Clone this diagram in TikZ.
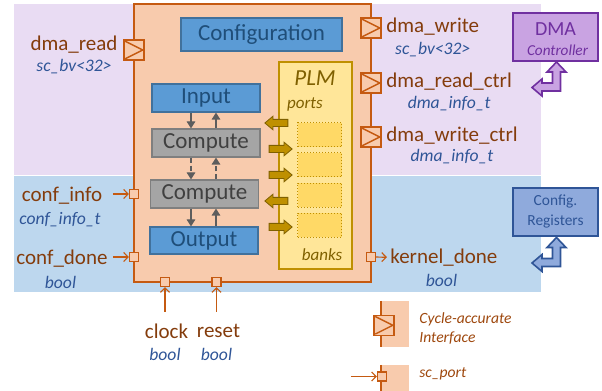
\documentclass[tikz,border=0pt]{standalone}
\usepackage{fontspec}
\setmainfont{Carlito}
\usepackage{tikz}
\usetikzlibrary{arrows.meta, positioning, shapes.arrows}
\definecolor{bgPurple}{HTML}{E9DCF3}
\definecolor{bgBlue}{HTML}{BDD7EE}
\definecolor{accFill}{HTML}{F8CBAD}
\definecolor{accLine}{HTML}{C55A11}
\definecolor{portText}{HTML}{843C0C}
\definecolor{typeText}{HTML}{2F5597}
\definecolor{stageFill}{HTML}{5B9BD5}
\definecolor{stageLine}{HTML}{41719C}
\definecolor{stageText}{HTML}{1F4E79}
\definecolor{compFill}{HTML}{A5A5A5}
\definecolor{compLine}{HTML}{7F7F7F}
\definecolor{compText}{HTML}{404040}
\definecolor{plmFill}{HTML}{FFE699}
\definecolor{plmLine}{HTML}{BF9000}
\definecolor{plmText}{HTML}{7F6000}
\definecolor{bankFill}{HTML}{FFD966}
\definecolor{dmaFill}{HTML}{C9A3E2}
\definecolor{dmaLine}{HTML}{7030A0}
\definecolor{cfgFill}{HTML}{8FAADC}
\definecolor{cfgLine}{HTML}{2F5597}

\begin{document}
\begin{tikzpicture}[x=0.5pt, y=-0.5pt,
  stage/.style={draw=stageLine, fill=stageFill, text=stageText, line width=0.6pt,
    minimum width=54pt, minimum height=14pt, inner sep=0pt, font=\fontsize{11.5}{12}\selectfont},
  comp/.style={stage, draw=compLine, fill=compFill, text=compText},
  bank/.style={draw=plmLine, fill=bankFill, densely dotted, line width=0.5pt,
    minimum width=22pt, minimum height=12pt, inner sep=0pt},
  plmarr/.style={single arrow, draw=plmText, fill=plmLine, line width=0.4pt, minimum height=11.5pt,
    minimum width=6.5pt, inner sep=1.6pt, single arrow head extend=1.6pt, single arrow tip angle=80},
  iface/.style={draw=accLine, fill=accFill, line width=0.7pt, minimum size=10pt, inner sep=0pt,
    path picture={\draw[accLine, line width=0.7pt]
      ([xshift=0.6pt,yshift=-0.6pt]path picture bounding box.north west)
      -- ([xshift=-0.6pt]path picture bounding box.east)
      -- ([xshift=0.6pt,yshift=0.6pt]path picture bounding box.south west);}},
  scport/.style={draw=accLine, fill=accFill, line width=0.6pt, minimum size=4.5pt, inner sep=0pt},
  sig/.style={accLine, line width=0.6pt, -{Straight Barb[length=2.2pt,width=4.5pt]}},
  flow/.style={draw=compText!85, line width=0.6pt, -{Triangle[length=3.5pt,width=4.3pt]}},
  pname/.style={text=portText, inner sep=0pt, font=\fontsize{10.5}{12}\selectfont},
  tname/.style={text=typeText, inner sep=0pt, font=\fontsize{8.8}{10}\selectfont\itshape},
  lgtext/.style={text=accLine!80!black, inner sep=0pt, align=left, font=\fontsize{7.8}{9.5}\selectfont\itshape},
]
  \useasboundingbox (0,0) rectangle (602,391);

  % domains
  \fill[bgPurple] (14,4) rectangle (541,175);
  \fill[bgBlue] (14,176) rectangle (541,292);

  % accelerator
  \node[draw=accLine, fill=accFill, line width=0.8pt, minimum width=118.5pt,
        minimum height=139pt, inner sep=0pt] (acc) at (252.5,143) {};
  \node[stage, minimum width=80.5pt, minimum height=16.5pt] (cfg) at (261.5,34.5) {Configuration};

  % PLM
  \node[draw=plmLine, fill=plmFill, line width=0.7pt, minimum width=36.5pt,
        minimum height=103.5pt, inner sep=0pt] (plm) at (315.5,165.5) {};
  \node[text=plmText, inner sep=0pt, font=\fontsize{11.5}{12}\selectfont\itshape] (plmlbl) at (315,78) {PLM};
  \node[text=plmText, inner sep=0pt, font=\fontsize{8.5}{10}\selectfont\itshape] (portslbl) at (305,104) {ports};
  \node[text=plmText, inner sep=0pt, font=\fontsize{8.5}{10}\selectfont\itshape] (bankslbl) at (322,255) {banks};
  \foreach \y [count=\i] in {134.7,165,195.3,225.3}
    \node[bank] (bank\i) at (320,\y) {};
  \foreach \y/\r [count=\i] in {123/180,149/0,175/0,201/180,227/0}
    \node[plmarr, shape border rotate=\r] (pa\i) at (278.5,\y) {};

  % stages
  \node[stage] (inp) at (206,98) {Input};
  \node[comp] (cmp1) at (206,143) {Compute};
  \node[comp] (cmp2) at (204.5,194) {Compute};
  \node[stage, minimum height=13.5pt] (outp) at (204,240.5) {Output};

  \coordinate (dn) at (191,0);
  \coordinate (up) at (216,0);
  \draw[flow] (inp.south -| dn) -- (cmp1.north -| dn);
  \draw[flow] (cmp1.north -| up) -- (inp.south -| up);
  \draw[flow, dash pattern=on 2.5pt off 1.5pt] (cmp1.south -| dn) -- (cmp2.north -| dn);
  \draw[flow, dash pattern=on 2.5pt off 1.5pt] (cmp2.north -| up) -- (cmp1.south -| up);
  \draw[flow] (cmp2.south -| dn) -- (outp.north -| dn);
  \draw[flow] (outp.north -| up) -- (cmp2.south -| up);

  % cycle-accurate interfaces
  \node[iface] (p_rd) at (134,50) {};
  \node[iface] (p_wr) at (371,28) {};
  \node[iface] (p_rc) at (371,83) {};
  \node[iface] (p_wc) at (371,137) {};

  \node[pname] (l_rd) at (74,45) {dma\_read};
  \node[tname] (t_rd) at ([yshift=-11pt]l_rd.center) {sc\_bv<32>};
  \node[pname, anchor=west] (l_wr) at (386,27) {dma\_write};
  \node[tname] (t_wr) at ([yshift=-11.5pt]l_wr.center) {sc\_bv<32>};
  \node[pname, anchor=west] (l_rc) at (386,82) {dma\_read\_ctrl};
  \node[tname] (t_rc) at ([yshift=-11pt]l_rc.center) {dma\_info\_t};
  \node[pname, anchor=west] (l_wc) at (386,136) {dma\_write\_ctrl};
  \node[tname] (t_wc) at ([yshift=-10.5pt]l_wc.center) {dma\_info\_t};

  % sc ports
  \node[scport] (p_ci) at (134,194) {};
  \node[scport] (p_cd) at (134,257) {};
  \node[scport] (p_clk) at (165,282) {};
  \node[scport] (p_rst) at (216.5,282) {};
  \node[scport] (p_kd) at (371,257) {};

  \node[pname] (l_ci) at (62,196) {conf\_info};
  \node[tname] (t_ci) at (60,220) {conf\_info\_t};
  \node[pname] (l_cd) at (62,259) {conf\_done};
  \node[tname] (t_cd) at (60.5,282) {bool};
  \node[pname] (l_clk) at (166.5,331) {clock};
  \node[tname] (t_clk) at (165,354.5) {bool};
  \node[pname] (l_rst) at (218.5,331) {reset};
  \node[tname] (t_rst) at (216.5,354.5) {bool};
  \node[pname, anchor=west] (l_kd) at (390,258) {kernel\_done};
  \node[tname] (t_kd) at (441.5,280.5) {bool};

  \coordinate (s_ci) at (113,194);
  \coordinate (s_cd) at (113,257);
  \coordinate (s_clk) at (165,312);
  \coordinate (s_rst) at (216.5,312);
  \draw[sig] (s_ci) -- (p_ci);
  \draw[sig] (s_cd) -- (p_cd);
  \draw[sig] (s_clk) -- (p_clk);
  \draw[sig] (s_rst) -- (p_rst);
  \draw[sig, shorten >=1.5pt] (p_kd) -- (l_kd);

  % system side
  \node[draw=dmaLine, fill=dmaFill, line width=0.8pt, minimum width=42.5pt,
        minimum height=24pt, inner sep=0pt] (dma) at (555.5,37) {};
  \node[text=dmaLine, inner sep=0pt, font=\fontsize{10}{12}\selectfont] (dmalbl) at ([yshift=4pt]dma.center) {DMA};
  \node[text=dmaLine, inner sep=0pt, font=\fontsize{7.6}{9}\selectfont\itshape] (ctrllbl) at ([xshift=1pt,yshift=-6.5pt]dma.center) {Controller};
  \node[draw=cfgLine, fill=cfgFill, line width=0.8pt, minimum width=42.5pt,
        minimum height=24pt, inner sep=0pt] (regs) at (555.5,212) {};
  \node[text=cfgLine, inner sep=0pt, font=\fontsize{7.7}{9}\selectfont] (cfglbl) at ([yshift=5.5pt]regs.center) {Config.};
  \node[text=cfgLine, inner sep=0pt, font=\fontsize{7.7}{9}\selectfont] (reglbl) at ([yshift=-5pt]regs.center) {Registers};

  \foreach \dy/\fc/\dc in {0/dmaFill/dmaLine, 175.5/cfgFill/cfgLine}
    \draw[draw=\dc, fill=\fc, line width=0.8pt, line join=miter, shift={(0,\dy)}]
      (556.5,62) -- (566,72) -- (560.5,72) -- (560.5,91) -- (542,91) -- (542,96)
      -- (532,87.5) -- (542,79) -- (542,83) -- (552.5,83) -- (552.5,72) -- (547,72) -- cycle;

  % legend
  \fill[accFill] (381,301) rectangle (409,347.5);
  \draw[accLine, line width=0.8pt] (381,301) -- (381,347.5);
  \node[iface] (lg_if) at (384,325.3) {};
  \node[lgtext, anchor=west] (lg_iftxt) at (419,328.5) {Cycle-accurate\\Interface};
  \fill[accFill] (381,365) rectangle (409,391);
  \draw[accLine, line width=0.8pt] (381,365) -- (381,391);
  \node[scport] (lg_sc) at (382,376.5) {};
  \coordinate (lg_src) at (351,376.5);
  \draw[sig] (lg_src) -- (lg_sc);
  \node[lgtext, anchor=west] (lg_sctxt) at (419,374) {sc\_port};
\end{tikzpicture}
\end{document}
